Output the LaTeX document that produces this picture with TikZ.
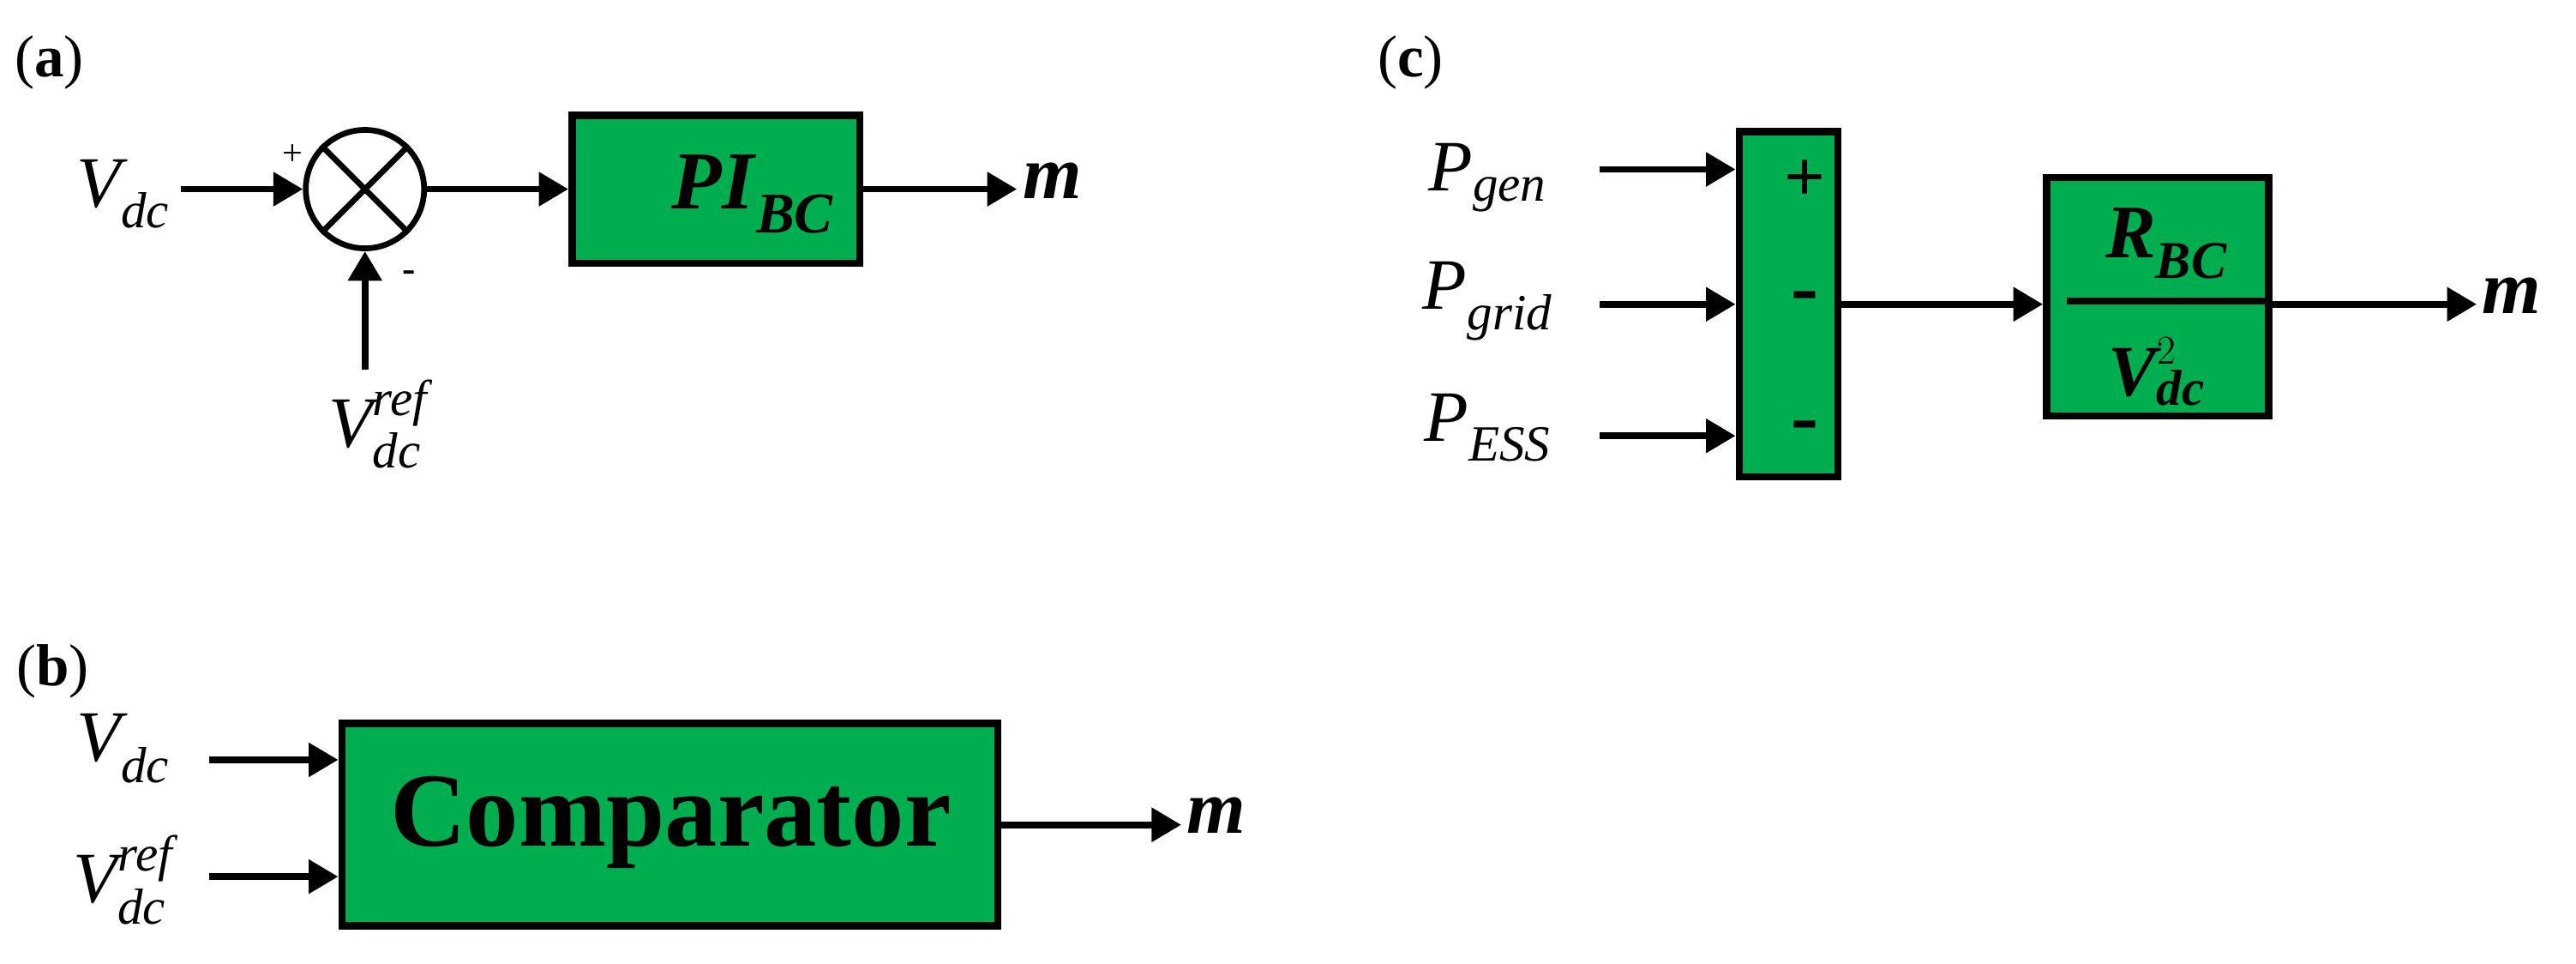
\documentclass[tikz,border=0pt]{standalone}
\usepackage{amsmath}
\usepackage{fontspec}
\setmainfont{Liberation Serif}
\usetikzlibrary{arrows.meta}
\definecolor{bgreen}{HTML}{00AD4F}
\newcommand{\vv}[1]{$\textit{V}#1$}
\begin{document}
\begin{tikzpicture}[x=1pt,y=-1pt,
  blk/.style={draw=black,line width=4.5pt,fill=bgreen,inner sep=0pt},
  arr/.style={line width=4pt,-{Triangle[length=18pt,width=20pt]}},
  lab/.style={font=\fontsize{36}{38}\selectfont},
  var/.style={font=\fontsize{44}{46}\selectfont}]
\useasboundingbox (0,0) rectangle (1567,586);
% (a)
\node[lab] (la) at (30,38) {(\textbf{a})};
\node[var] (va) at (75,118) {\vv{_{\textit{dc}}}};
\node[circle,draw,line width=3.5pt,minimum size=72pt,inner sep=0pt,fill=white] (sum) at (222,115) {};
\draw[line width=3.5pt] (sum.north west) -- (sum.south east) (sum.north east) -- (sum.south west);
\node[font=\fontsize{22}{22}\selectfont] (pl) at (178,94) {+};
\node[font=\fontsize{24}{24}\selectfont\bfseries] (mi) at (249,168) {-};
\coordinate (va1) at (110,115);
\draw[arr] (va1) -- (sum.west);
\node[var] (vra) at (230,258) {\vv{_{\textit{dc}}^{\textit{ref}}}};
\coordinate (vr1) at (222,225);
\draw[arr] (vr1) -- (sum.south);
\node[blk,minimum width=175pt,minimum height=90pt] (pi) at (435.5,115) {};
\node[font=\fontsize{50}{50}\selectfont\bfseries] (pit) at (458,118) {\textit{PI}\textsubscript{\textit{BC}}};
\draw[arr] (sum.east) -- (pi.west);
\node[font=\fontsize{46}{46}\selectfont\bfseries] (ma) at (640,110) {\textit{m}};
\draw[arr] (pi.east) -- (pi.east -| ma.west);
% (b)
\node[lab] (lb) at (32,408) {(\textbf{b})};
\node[blk,minimum width=399pt,minimum height=123pt] (cmp) at (407.5,501.5) {};
\node[font=\fontsize{64}{66}\selectfont\bfseries] (ct) at (408,500) {Comparator};
\node[var] (vb) at (75,455) {\vv{_{\textit{dc}}}};
\node[var] (vrb) at (75,535) {\vv{_{\textit{dc}}^{\textit{ref}}}};
\coordinate (vb1) at (127,462);
\coordinate (vb2) at (127,533);
\draw[arr] (vb1) -- (vb1 -| cmp.west);
\draw[arr] (vb2) -- (vb2 -| cmp.west);
\node[font=\fontsize{46}{46}\selectfont\bfseries] (mb) at (740,496) {\textit{m}};
\draw[arr] (cmp.east) -- (cmp.east -| mb.west);
% (c)
\node[lab] (lc) at (858,38) {(\textbf{c})};
\node[blk,minimum width=60pt,minimum height=210pt] (sb) at (1088,185) {};
\node[font=\fontsize{44}{44}\selectfont\bfseries] (s1) at (1098,110) {+};
\node[font=\fontsize{50}{50}\selectfont\bfseries] (s2) at (1098,184) {-};
\node[font=\fontsize{50}{50}\selectfont\bfseries] (s3) at (1098,263) {-};
\node[var] (pg) at (905,108) {\textit{P}\textsubscript{\textit{gen}}};
\node[var] (pgr) at (905,183) {\textit{P}\textsubscript{\textit{grid}}};
\node[var] (pe) at (905,260) {\textit{P}\textsubscript{\textit{ESS}}};
\coordinate (c1) at (973,103);
\coordinate (c2) at (973,185);
\coordinate (c3) at (973,265);
\draw[arr] (c1) -- (c1 -| sb.west);
\draw[arr] (c2) -- (c2 -| sb.west);
\draw[arr] (c3) -- (c3 -| sb.west);
\node[blk,minimum width=135pt,minimum height=145pt] (rb) at (1312.5,180.5) {};
\draw[line width=4.5pt] (1257,183) -- (1378,183);
\node[font=\fontsize{46}{46}\selectfont\bfseries] (rt) at (1318,148) {\textit{R}\textsubscript{\textit{BC}}};
\node[font=\fontsize{44}{44}\selectfont\bfseries] (vt) at (1312,226) {\vv{_{\textit{dc}}^{2}}};
\draw[arr] (sb.east |- c2) -- (rb.west |- c2);
\node[font=\fontsize{46}{46}\selectfont\bfseries] (mc) at (1528,180) {\textit{m}};
\draw[arr] (rb.east |- c2) -- (mc.west |- c2);
\end{tikzpicture}
\end{document}
